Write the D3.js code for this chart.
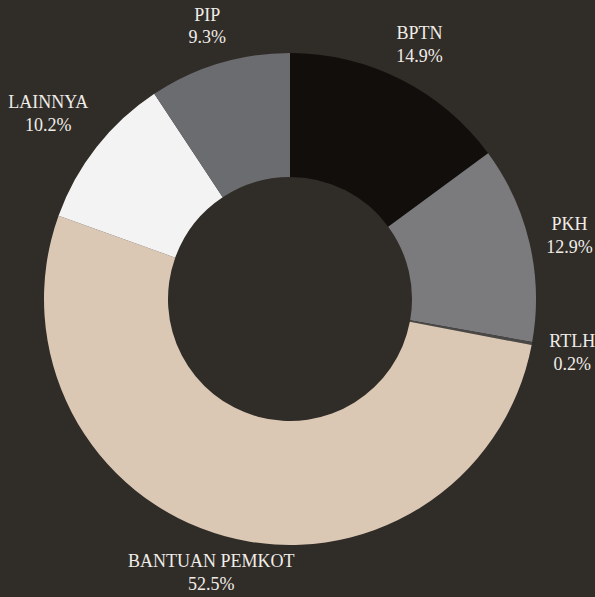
<!DOCTYPE html>
<html><head><meta charset="utf-8">
<script src="https://cdn.jsdelivr.net/npm/d3@7"></script>
<style>html,body{margin:0;padding:0;background:#302c28;}svg{display:block;}</style>
</head><body>
<svg id="c" width="595" height="597"></svg>
<script>
const categories = ["BPTN", "PKH", "RTLH", "BANTUAN PEMKOT", "LAINNYA", "PIP"];
const values = [14.9, 12.9, 0.2, 52.5, 10.2, 9.3];
const colors = ["#120e0b", "#7b7b7e", "#4a4846", "#dbc8b4", "#f3f3f3", "#6b6c70"];
const labelNudge = {"LAINNYA": [-16, -10], "BANTUAN PEMKOT": [-3, -5]};

const data = categories.map((c, i) => ({name: c, value: values[i], color: colors[i]}));
const svg = d3.select("#c");
const cx = 290, cy = 299, R = 246, r = 122;
const g = svg.append("g").attr("transform", `translate(${cx},${cy})`);
const pie = d3.pie().value(d => d.value).sort(null);
const arc = d3.arc().innerRadius(r).outerRadius(R);
const labelArc = d3.arc().innerRadius(287).outerRadius(287);
const arcs = pie(data);
g.selectAll("path").data(arcs).join("path")
  .attr("d", arc).attr("fill", d => d.data.color);
const lab = g.selectAll("text").data(arcs).join("text")
  .attr("transform", d => {
    const [x, y] = labelArc.centroid(d);
    const n = labelNudge[d.data.name] || [0, 0];
    return `translate(${x + n[0]},${y + n[1]})`;
  })
  .attr("text-anchor", "middle")
  .attr("font-family", "'Liberation Serif', serif")
  .attr("font-size", 18)
  .attr("fill", "#f0ece7");
lab.append("tspan").attr("x", 0).attr("dy", "-0.2em").text(d => d.data.name);
lab.append("tspan").attr("x", 0).attr("dy", "1.25em").text(d => d3.format(".1f")(d.data.value) + "%");
</script>
</body></html>
